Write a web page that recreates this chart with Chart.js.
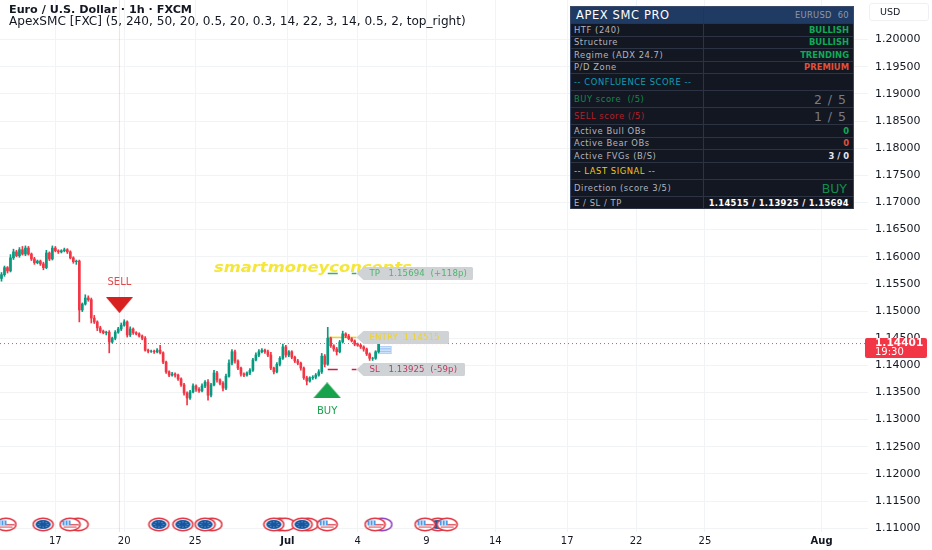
<!DOCTYPE html>
<html><head><meta charset="utf-8">
<script src="https://cdn.jsdelivr.net/npm/chart.js@4"></script>
<style>
html,body{margin:0;padding:0;background:#fff;width:932px;height:550px;overflow:hidden;font-family:"DejaVu Sans",sans-serif}
#wrap{position:relative;width:932px;height:550px}
canvas{position:absolute;left:0;top:0}
#t1{position:absolute;left:9px;top:3px;line-height:14px;font-size:11.2px;font-weight:700;color:#131722;white-space:nowrap}
#t2{position:absolute;left:9px;top:14px;line-height:14px;font-size:12.1px;color:#131722;white-space:nowrap}
#usd{position:absolute;left:869px;top:3px;width:58px;height:16px;border:1px solid #eef0f3;border-radius:3px;font-size:9.5px;color:#131722;line-height:16px;text-indent:10px;box-sizing:content-box}
#panel{position:absolute;left:570px;top:6px;width:284px;height:203px;background:#131722;box-sizing:border-box;border:1px solid #3a4a68}
.r{position:absolute;left:0;width:282px;border-bottom:1px solid #2c3444;box-sizing:border-box}
.c{position:absolute;top:0;height:100%;display:flex;align-items:center;font-size:8.4px;white-space:pre;box-sizing:border-box}
.a{left:0;width:133px;padding-left:3px;border-right:1px solid #2c3444;letter-spacing:.55px}
.b{left:133px;width:149px;justify-content:flex-end;padding-right:4px;font-weight:700}
</style></head><body>
<div id="wrap">
<canvas id="c" width="932" height="550"></canvas>
<div id="t1">Euro / U.S. Dollar · 1h · FXCM</div>
<div id="t2">ApexSMC [FXC] (5, 240, 50, 20, 0.5, 20, 0.3, 14, 22, 3, 14, 0.5, 2, top_right)</div>
<div id="usd">USD</div>
<div id="panel"></div>
</div>
<script>
const closes=[
1.1567,1.1580,1.1574,1.1598,1.1609,1.1602,1.1613,1.1605,1.1616,1.1605,
1.1596,1.1589,1.1592,1.1587,1.1580,1.1607,1.1596,1.1616,1.1611,1.1609,
1.1611,1.1613,1.1609,1.1598,1.1591,1.1592,1.1502,1.1513,1.1524,1.1521,
1.1487,1.1480,1.1469,1.1463,1.1460,1.1461,1.1443,1.1450,1.1461,1.1467,
1.1474,1.1480,1.1456,1.1467,1.1460,1.1458,1.1454,1.1450,1.1428,1.1426,
1.1426,1.1425,1.1428,1.1423,1.1406,1.1388,1.1382,1.1384,1.1382,1.1375,
1.1364,1.1349,1.1340,1.1351,1.1362,1.1356,1.1353,1.1362,1.1369,1.1345,
1.1364,1.1386,1.1373,1.1367,1.1358,1.1380,1.1404,1.1425,1.1408,1.1395,
1.1384,1.1382,1.1386,1.1391,1.1410,1.1419,1.1425,1.1428,1.1425,1.1419,
1.1395,1.1388,1.1402,1.1413,1.1434,1.1419,1.1425,1.1415,1.1408,1.1404,
1.1395,1.1377,1.1371,1.1377,1.1378,1.1382,1.1388,1.1417,1.1402,1.1450,
1.1436,1.1430,1.1425,1.1443,1.1458,1.1454,1.1449,1.1445,1.1439,1.1437,
1.1434,1.1430,1.1421,1.1413,1.1413,1.1425,1.14401];
const firstOpen=1.1560;
const wickUpPips=[
4,3,2,6,5,3,4,6,4,3,
2,3,2,2,3,5,2,4,3,2,
2,3,2,2,2,2,2,2,6,4,
3,5,2,3,2,2,3,2,3,3,
4,4,2,4,2,2,2,2,3,2,
2,2,3,9,2,2,2,3,2,2,
2,3,2,3,4,2,3,4,3,5,
3,5,3,2,3,4,6,4,3,2,
2,2,2,3,3,4,4,3,2,3,
5,2,3,3,5,3,2,2,2,3,
2,2,3,2,3,3,4,5,3,20,
2,2,3,3,5,2,3,2,2,2,
2,2,2,2,2,2,2];
const wickDownPips=[
5,3,4,2,3,2,3,2,3,2,
3,3,2,3,4,2,3,2,2,3,
2,2,3,2,3,5,22,3,2,3,
9,3,5,3,2,4,20,2,3,2,
3,2,4,3,3,2,2,3,2,3,
2,3,2,2,3,3,3,2,4,3,
3,4,13,3,2,4,3,2,3,9,
3,2,4,3,5,3,2,3,4,3,
4,3,2,3,2,2,3,2,3,3,
3,4,2,3,2,4,3,3,3,3,
4,3,7,2,3,3,2,3,5,2,
3,4,6,2,2,3,2,2,3,2,
3,4,3,4,4,2,2];
const tickPositions=[18,41,64.7,95.5,119,142,165,189,212,235,274];
const tickLabels=["17","20","25","Jul","4","9","14","17","22","25","Aug"];
const lastPrice=1.14401;
const countdown="19:30";
const entryPrice=1.14515, slPrice=1.13925, tpPrice=1.15694;
const levelStart=109, levelEnd=118.6;
const sellMark={x:39.4,y:1.1511}, buyMark={x:108.8,y:1.1354};
const signalBar=39.4;
const usEvents=[1.5,22.9,108.8,124.8,141.5,148.9];
const euEvents=[13.9,52.6,60.6,68,91,100.4,145.8];
const ringEvents=[25.6,70.3,93,94.7,102.4];
const purpleRingEvents=[127.1];
const eventRowPrice=1.1107;
const gapBoxes=[[125.8,130.2,1.14350,1.14310],[125.8,130.2,1.14300,1.14260],[125.8,130.2,1.14250,1.14215]];
const levelTags=[
 {price:tpPrice,text:"TP   1.15694  (+118p)",color:"#4cb56c",right:473},
 {price:entryPrice,text:"ENTRY  1.14515",color:"#f2d21d",right:449},
 {price:slPrice,text:"SL   1.13925  (-59p)",color:"#c23a62",right:465}];
const panelRows=[
 ["h",17,"APEX SMC PRO","EURUSD  60","#fff","#8f98a8"],
 ["n",12.5,"HTF (240)","BULLISH","#b2b5be","#0fa958"],
 ["n",12.5,"Structure","BULLISH","#b2b5be","#0fa958"],
 ["n",12.5,"Regime (ADX 24.7)","TRENDING","#b2b5be","#0fa958"],
 ["n",12.5,"P/D Zone","PREMIUM","#b2b5be","#e0513a"],
 ["n",17,"-- CONFLUENCE SCORE --","","#0f9fb5",""],
 ["s",17,"BUY score  (/5)","2 / 5","#128a4c","#787b86"],
 ["s",17,"SELL score (/5)","1 / 5","#b3222a","#787b86"],
 ["n",12.5,"Active Bull OBs","0","#b2b5be","#0fa958"],
 ["n",12.5,"Active Bear OBs","0","#b2b5be","#e0513a"],
 ["n",13,"Active FVGs (B/S)","3 / 0","#b2b5be","#e6e8ec"],
 ["n",17,"-- LAST SIGNAL --","","#f2c511",""],
 ["b",17,"Direction (score 3/5)","BUY","#b2b5be","#0f8f4c"],
 ["n",12,"E / SL / TP","1.14515 / 1.13925 / 1.15694","#b2b5be","#fff"]];

let py=0;const panel=document.getElementById('panel');
panelRows.forEach(r=>{
 const d=document.createElement('div');d.className='r';d.style.top=py+'px';d.style.height=r[1]+'px';
 if(r[0]==='h')d.style.background='#1f3a63';
 const a=document.createElement('div');a.className='c a';a.textContent=r[2];a.style.color=r[4];
 const b=document.createElement('div');b.className='c b';b.textContent=r[3];b.style.color=r[5];
 if(r[0]==='h'){a.style.fontSize='11.5px';a.style.paddingLeft='5px';a.style.letterSpacing='.6px';b.style.fontWeight='400';b.style.fontSize='8.4px';b.style.letterSpacing='.3px';}
 if(r[0]==='s'){b.style.fontSize='12.5px';b.style.fontWeight='400';b.style.letterSpacing='1px';b.style.paddingRight='6px';}
 if(r[0]==='b'){b.style.fontSize='12.5px';b.style.fontWeight='400';b.style.paddingRight='6px';}
 if(r[3].length>20){b.style.letterSpacing='.3px';}
 d.append(a,b);panel.appendChild(d);py+=r[1];
});

function mk(w,h,fn){const c=document.createElement('canvas');c.width=w;c.height=h;fn(c.getContext('2d'),w,h);return c;}
function ell(g,rx,ry,fill,stroke,lw){g.beginPath();g.ellipse(11.5,7.5,rx,ry,0,0,Math.PI*2);if(fill){g.fillStyle=fill;g.fill();}if(stroke){g.strokeStyle=stroke;g.lineWidth=lw;g.stroke();}}
const ringIcon=c=>mk(23,15,g=>ell(g,10,6.2,'#fff',c,1.5));
const euIcon=mk(23,15,g=>{ell(g,10,6.2,'#fff','#e0323f',1.5);ell(g,7.6,4.6,'#15569e');
 g.fillStyle='#8fb6e8';for(let i=0;i<8;i++){const t=i*Math.PI/4;g.fillRect(11+Math.cos(t)*4.6,7+Math.sin(t)*2.6,1,1);}});
const usIcon=mk(23,15,g=>{ell(g,10,6.2,'#fff','#e0323f',1.5);
 g.fillStyle='#4b9be8';g.fillRect(4,3.5,8,5);g.fillStyle='#fff';g.fillRect(6,3.5,1,5);g.fillRect(9,3.5,1,5);
 g.fillStyle='#e0606a';g.fillRect(12,7,8,1.5);g.fillRect(5,9.5,13,1.2);});
const sellIcon=mk(27,16,(g,w,h)=>{g.fillStyle='#d92020';g.beginPath();g.moveTo(0,0);g.lineTo(w,0);g.lineTo(w/2,h);g.fill();});
const buyIcon=mk(28,16,(g,w,h)=>{g.fillStyle='#17a24d';g.beginPath();g.moveTo(0,h);g.lineTo(w,h);g.lineTo(w/2,0);g.fill();});

const opens=closes.map((c,i)=>i?closes[i-1]:firstOpen);
const bodies=closes.map((c,i)=>({x:i,y:[opens[i],c]}));
const wicks=closes.map((c,i)=>({x:i,y:[Math.min(opens[i],c)-wickDownPips[i]*1e-4,Math.max(opens[i],c)+wickUpPips[i]*1e-4]}));
const colors=closes.map((c,i)=>c>=opens[i]?'#089981':'#f23645');
const XMIN=-0.5,XMAX=289.5,YMIN=1.1093,YMAX=1.2073;
const pts=(arr)=>arr.map(x=>({x,y:eventRowPrice}));
const scat=(data,style,extra)=>Object.assign({type:'scatter',data,pointStyle:style,pointRadius:6,pointHoverRadius:6,showLine:false},extra||{});
const lvl=(price,color,dash)=>({type:'line',data:[{x:levelStart,y:price},{x:levelEnd,y:price}],borderColor:color,borderWidth:1.5,borderDash:dash,pointRadius:0,fill:false});
const noPad=a=>{a.paddingLeft=a.paddingRight=a.paddingTop=a.paddingBottom=0;a.getPadding=()=>({left:0,top:0,right:0,bottom:0});};

const overlay={id:'overlay',
 beforeDatasetsDraw(ch){
  const g=ch.ctx,x=ch.scales.x,y=ch.scales.y;g.save();
  gapBoxes.forEach(b=>{const X0=x.getPixelForValue(b[0]),X1=x.getPixelForValue(b[1]),Y0=y.getPixelForValue(b[2]),Y1=y.getPixelForValue(b[3]);
   g.fillStyle='rgba(100,160,240,.28)';g.strokeStyle='rgba(100,160,240,.55)';g.lineWidth=.7;g.fillRect(X0,Y0,X1-X0,Y1-Y0);g.strokeRect(X0,Y0,X1-X0,Y1-Y0);});
  g.restore();},
 afterDatasetsDraw(ch){
  const g=ch.ctx,x=ch.scales.x,y=ch.scales.y;g.save();
  g.textBaseline='middle';
  g.save();g.translate(x.getPixelForValue(71),y.getPixelForValue(1.1579));g.scale(1.22,1);
  g.font='italic bold 13.4px "DejaVu Sans"';g.fillStyle='#f5e63a';g.textAlign='left';
  g.fillText('smartmoneyconcepts',0,0);g.restore();
  g.letterSpacing='0.1px';
  levelTags.forEach(t=>{const py=y.getPixelForValue(t.price),l=x.getPixelForValue(levelEnd);
   g.fillStyle='#d0d3d5';g.beginPath();g.moveTo(l,py);g.lineTo(l+7,py-6.5);g.lineTo(t.right-1,py-6.5);g.lineTo(t.right,py-5.5);g.lineTo(t.right,py+5.5);g.lineTo(t.right-1,py+6.5);g.lineTo(l+7,py+6.5);g.closePath();g.fill();
   g.fillStyle=t.color;g.font='8.6px "DejaVu Sans"';g.textAlign='left';g.fillText(t.text,l+13,py+.5);});
  g.letterSpacing='0px';
  g.font='10px "DejaVu Sans"';g.textAlign='center';
  g.fillStyle='#e04a4a';g.fillText('SELL',x.getPixelForValue(sellMark.x),y.getPixelForValue(sellMark.y)-23);
  g.fillStyle='#17a24d';g.fillText('BUY',x.getPixelForValue(buyMark.x),y.getPixelForValue(buyMark.y)+21);
  const py=y.getPixelForValue(lastPrice);
  g.fillStyle='#f23645';g.beginPath();g.roundRect(865,py-5.5,62,20,2);g.fill();
  g.fillStyle='#fff';g.font='bold 10.6px "DejaVu Sans"';g.textAlign='left';g.fillText(lastPrice.toFixed(5),875,py);
  g.font='10px "DejaVu Sans"';g.fillText(countdown,875,py+9);
  g.restore();}
};

new Chart(document.getElementById('c'),{
 type:'bar',
 data:{datasets:[
  scat([sellMark],sellIcon,{}),
  scat([buyMark],buyIcon,{}),
  scat(pts(usEvents),usIcon),
  scat(pts(euEvents),euIcon),
  scat(pts(ringEvents),ringIcon('#e0323f')),
  scat(pts(purpleRingEvents),ringIcon('#8e3fc0')),
  {type:'bar',data:bodies,backgroundColor:colors,barThickness:2,grouped:false},
  {type:'bar',data:wicks,backgroundColor:colors,barThickness:1,grouped:false},
  lvl(tpPrice,'#3fae5c',[10,14]),
  lvl(slPrice,'#d01c4c',[10,14]),
  lvl(entryPrice,'#f2d21d',[]),
  {type:'line',data:[{x:XMIN,y:lastPrice},{x:XMAX,y:lastPrice}],borderColor:'rgba(242,54,69,.9)',borderWidth:1,borderDash:[1,3],pointRadius:0},
  {type:'line',data:[{x:signalBar,y:YMIN},{x:signalBar,y:YMAX}],borderColor:'rgba(242,54,69,.18)',borderWidth:1,pointRadius:0}
 ]},
 options:{responsive:false,animation:false,devicePixelRatio:1,
  layout:{padding:0,autoPadding:false},
  plugins:{legend:{display:false},tooltip:{enabled:false}},
  events:[],
  scales:{
   x:{type:'linear',min:XMIN,max:XMAX,offset:false,
    afterBuildTicks(a){a.ticks=tickPositions.map(v=>({value:v}));},
    afterFit(a){a.height=18;noPad(a);},
    border:{display:false},
    grid:{color:'#f2f3f5',lineWidth:1,drawTicks:false,offset:false},
    ticks:{autoSkip:false,maxRotation:0,padding:3,color:'#131722',
     font:c=>({family:'DejaVu Sans',size:10,weight:/[A-Za-z]/.test(tickLabels[tickPositions.indexOf(c.tick&&c.tick.value)]||'')?'700':'400'}),
     callback:v=>tickLabels[tickPositions.indexOf(v)]||''}},
   y:{type:'linear',position:'right',min:YMIN,max:YMAX,
    afterBuildTicks(a){a.ticks=a.ticks.filter(t=>t.value<=1.2001);},
    afterFit(a){a.width=64;noPad(a);},
    border:{display:false},
    grid:{color:'#f2f3f5',lineWidth:1,drawTicks:false},
    ticks:{stepSize:0.005,includeBounds:false,padding:7,color:'#131722',font:{family:'DejaVu Sans',size:11},callback:v=>v.toFixed(5)}}
  }},
 plugins:[overlay]
});
</script>
</body></html>
